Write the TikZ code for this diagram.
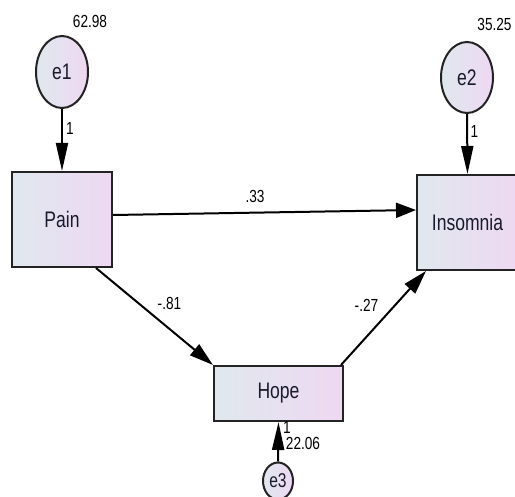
\documentclass[tikz,border=0pt]{standalone}
\usepackage{fontspec}
\setmainfont{Liberation Sans}[FakeStretch=0.78]
\usetikzlibrary{shapes.geometric,arrows.meta}
\definecolor{gL}{RGB}{224,232,238}
\definecolor{gR}{RGB}{238,216,242}
\definecolor{txt}{RGB}{25,27,45}
\definecolor{edgec}{RGB}{35,35,35}
\begin{document}
\begin{tikzpicture}[x=1pt,y=-1pt,
  var/.style={draw=edgec,line width=2pt,left color=gL,right color=gR,
    font=\fontsize{22.5}{24}\selectfont,text=txt,inner sep=0pt},
  obs/.style={var,rectangle},
  err/.style={var,ellipse},
  num/.style={font=\fontsize{17.5}{18}\selectfont,text=black,inner sep=0pt},
  conn/.style={draw=black,line width=2pt},
  vtip/.style={conn,-{Triangle[length=28pt,width=12pt]}},
  htip/.style={conn,-{Triangle[length=20pt,width=15pt]}},
  dtip/.style={conn,-{Triangle[length=24pt,width=14pt]}}]
\useasboundingbox[fill=white] (0,0) rectangle (515,497);

\node[err,minimum width=52pt,minimum height=72pt] (e1) at (62,72) {e1};
\node[err,minimum width=52pt,minimum height=71pt] (e2) at (467,77.5) {e2};
\node[err,minimum width=30pt,minimum height=37pt,font=\fontsize{20}{22}\selectfont] (e3) at (278,481) {e3};

\node[obs,minimum width=100pt,minimum height=95pt] (pain) at (62,219.5) {Pain};
\node[obs,minimum width=101pt,minimum height=95pt] (ins) at (467.5,222.5) {Insomnia};
\node[obs,minimum width=129pt,minimum height=55pt] (hope) at (278.5,393.5) {Hope};

\draw[vtip] (e1.south) -- (pain.north);
\draw[vtip] (e2.south) -- (ins.north);
\draw[vtip] (e3.north) -- (hope.south);
\draw[htip] ([yshift=4.5pt]pain.east) -- ([yshift=12.5pt]ins.west);
\draw[dtip] ([xshift=-17pt]pain.south east) -- (hope.north west);
\draw[dtip] ([xshift=-3pt]hope.north east) -- ([xshift=10pt]ins.south west);

\node[num] (v1) at (90,21) {62.98};
\node[num] (v2) at (494.5,24) {35.25};
\node[num] (w1) at (70,128) {1};
\node[num] (w2) at (474.5,131) {1};
\node[num] (c1) at (255,196) {.33};
\node[num] (c2) at (169.5,303) {-.81};
\node[num] (c3) at (366.5,305) {-.27};
\node[num] (w3) at (287,427) {1};
\node[num] (v3) at (303,443) {22.06};
\end{tikzpicture}
\end{document}
